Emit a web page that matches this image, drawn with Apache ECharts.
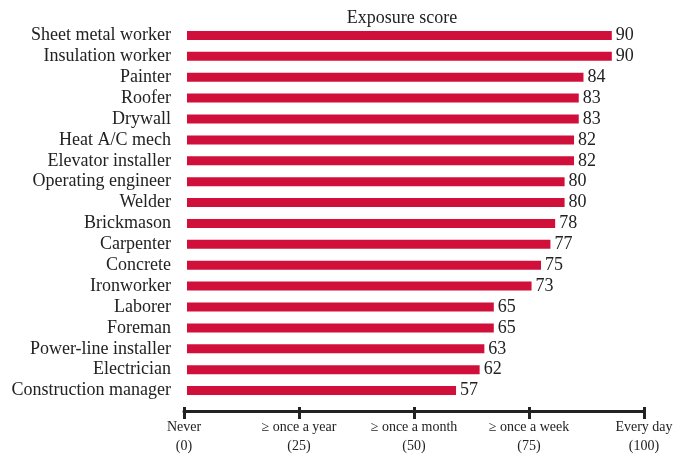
<!DOCTYPE html>
<html>
<head>
<meta charset="utf-8">
<script src="https://cdn.jsdelivr.net/npm/echarts@6/dist/echarts.min.js"></script>
<style>html,body{margin:0;padding:0;background:#fff;}#c{width:686px;height:456px;}</style>
</head>
<body>
<div id="c"></div>
<script>
var categories = ["Sheet metal worker","Insulation worker","Painter","Roofer","Drywall","Heat A/C mech","Elevator installer","Operating engineer","Welder","Brickmason","Carpenter","Concrete","Ironworker","Laborer","Foreman","Power-line installer","Electrician","Construction manager"];
var scores = [90,90,84,83,83,82,82,80,80,78,77,75,73,65,65,63,62,57];
var tickValues = [0,25,50,75,100];
var tickNames = ["Never","\u2265 once a year","\u2265 once a month","\u2265 once a week","Every day"];

var FONT = '"Liberation Serif", "Times New Roman", serif';
var chart = echarts.init(document.getElementById('c'), null, {renderer:'canvas'});
chart.setOption({
  animation: false,
  backgroundColor: '#fff',
  title: {text: 'Exposure score', left: 397, top: 4, textAlign: 'center',
    textStyle: {fontFamily: FONT, fontSize: 18, fontWeight: 'normal', color: '#222'}},
  grid: [
    {left: 187, width: 472, top: 25, height: 376},
    {left: 184, width: 460, top: 407, height: 6}
  ],
  yAxis: [
    {type: 'category', gridIndex: 0, data: categories, inverse: true,
     axisLine: {show: false}, axisTick: {show: false},
     axisLabel: {interval: 0, fontFamily: FONT, fontSize: 18, color: '#222', margin: 16}},
    {type: 'value', gridIndex: 1, show: false}
  ],
  xAxis: [
    {type: 'value', gridIndex: 0, min: 0, max: 100, show: false},
    {type: 'value', gridIndex: 1, min: 0, max: 100, interval: 25, position: 'bottom',
     axisLine: {show: true, lineStyle: {color: '#222', width: 3}},
     axisTick: {show: true, length: 8, lineStyle: {color: '#222', width: 3}},
     splitLine: {show: true, lineStyle: {color: '#222', width: 3}},
     axisLabel: {fontFamily: FONT, fontSize: 14, color: '#222', margin: 7, lineHeight: 19,
       showMinLabel: true, showMaxLabel: true,
       formatter: function(v){ var i = tickValues.indexOf(v); return i < 0 ? '' : tickNames[i] + '\n(' + v + ')'; }}}
  ],
  series: [{
    type: 'bar', xAxisIndex: 0, yAxisIndex: 0, data: scores, barWidth: 9,
    itemStyle: {color: '#d0103a'},
    label: {show: true, position: 'right', distance: 4, fontFamily: FONT, fontSize: 18, color: '#222'}
  }]
});
</script>
</body>
</html>
